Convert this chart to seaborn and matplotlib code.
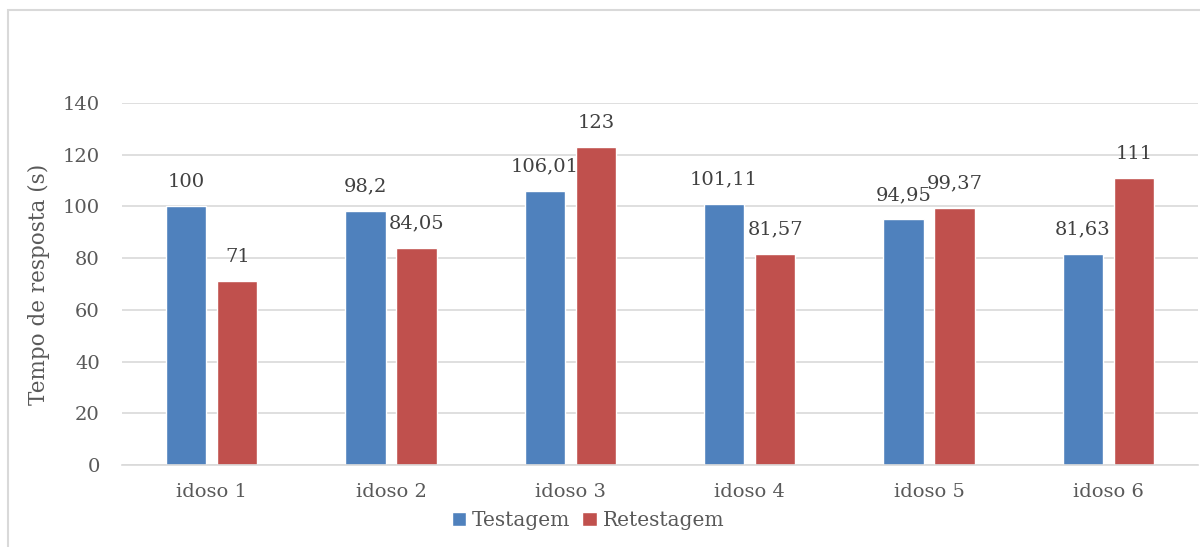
import pandas as pd
import seaborn as sns
import matplotlib.pyplot as plt
from matplotlib.patches import Rectangle

# valores
idosos = ["idoso 1", "idoso 2", "idoso 3", "idoso 4", "idoso 5", "idoso 6"]
testagem = [100, 98.2, 106.01, 101.11, 94.95, 81.63]
retestagem = [71, 84.05, 123, 81.57, 99.37, 111]
series = ["Testagem", "Retestagem"]
cores = ["#4F81BD", "#C0504D"]

df = pd.DataFrame({
    "idoso": idosos * 2,
    "tempo": testagem + retestagem,
    "serie": [series[0]] * len(idosos) + [series[1]] * len(idosos),
})

sns.set_theme(style="white")
plt.rcParams["font.family"] = ["DejaVu Serif"]
texto = "#595959"

fig = plt.figure(figsize=(12, 5.47), dpi=100)
ax = fig.add_axes([0.1017, 0.1499, 0.8966, 0.6618])

sns.barplot(data=df, x="idoso", y="tempo", hue="serie", palette=cores,
            width=0.57, gap=0.21, ax=ax, legend=True, saturation=1)

ax.set_ylim(0, 140)
ax.set_xlim(-0.5, 5.5)
ax.set_yticks(range(0, 141, 20))
ax.yaxis.grid(True, color="#d9d9d9", linewidth=1.2)
ax.set_axisbelow(True)
for s in ["top", "right", "left"]:
    ax.spines[s].set_visible(False)
ax.spines["bottom"].set_color("#d9d9d9")
ax.spines["bottom"].set_linewidth(1.2)
ax.tick_params(axis="y", length=0, pad=16, labelsize=14, labelcolor=texto)
ax.tick_params(axis="x", length=0, pad=13, labelsize=14, labelcolor=texto)
ax.set_xlabel("")
ax.set_ylabel("Tempo de resposta (s)", fontsize=15.5, color=texto, labelpad=9)

for cont, vals in zip(ax.containers, [testagem, retestagem]):
    rotulos = ["{:g}".format(v).replace(".", ",") for v in vals]
    ax.bar_label(cont, labels=rotulos, padding=11, fontsize=14, color="#404040")

ax.legend(loc="center", bbox_to_anchor=(588 / 1200, 0.049),
          bbox_transform=fig.transFigure, ncol=2, frameon=False,
          handlelength=0.7, handleheight=0.7, handletextpad=0.3,
          columnspacing=0.6, fontsize=14.5, labelcolor=texto)

# moldura da area do grafico
fig.patches.append(Rectangle((8 / 1200, -0.5), 2, 0.5 + 1 - 10 / 547,
                             transform=fig.transFigure, fill=False,
                             edgecolor="#d9d9d9", linewidth=1.5))

fig.savefig("out.png", dpi=100)
